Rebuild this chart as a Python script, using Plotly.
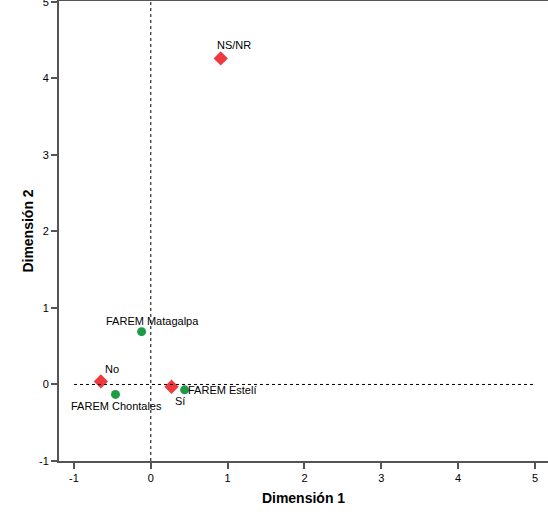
import plotly.graph_objs as go

# category points (dimension 1, dimension 2)
resp_names = ["NS/NR", "No", "Sí"]
resp_dim1 = [0.91, -0.65, 0.27]
resp_dim2 = [4.26, 0.04, -0.03]

farem_names = ["FAREM Matagalpa", "FAREM Chontales", "FAREM Estelí"]
farem_dim1 = [-0.12, -0.46, 0.44]
farem_dim2 = [0.69, -0.13, -0.07]

x_ticks = [-1, 0, 1, 2, 3, 4, 5]
y_ticks = [-1, 0, 1, 2, 3, 4, 5]
tick_text = ["-1", "0", "1", "2", "3", "4", "5"]

# label placement: (xanchor, xshift, yshift)
label_pos = {
    "NS/NR": ("center", 13, 13),
    "No": ("center", 11, 12),
    "Sí": ("center", 8, -14),
    "FAREM Matagalpa": ("center", 11, 11),
    "FAREM Chontales": ("center", 1, -12),
    "FAREM Estelí": ("left", 1, 0),
}

axis_col = "#555555"
font = "Liberation Sans, Arial, sans-serif"

fig = go.Figure()
fig.add_trace(go.Scatter(
    x=resp_dim1, y=resp_dim2, mode="markers",
    marker=dict(symbol="diamond", size=11, color="#ee3a3f"),
    hoverinfo="skip",
))
fig.add_trace(go.Scatter(
    x=farem_dim1, y=farem_dim2, mode="markers",
    marker=dict(symbol="circle", size=9, color="#1f9a45"),
    hoverinfo="skip",
))

for names, xs, ys in [(resp_names, resp_dim1, resp_dim2),
                      (farem_names, farem_dim1, farem_dim2)]:
    for n, x, y in zip(names, xs, ys):
        anchor, dx, dy = label_pos[n]
        fig.add_annotation(x=x, y=y, text=n, showarrow=False,
                           xanchor=anchor, yanchor="middle",
                           xshift=dx, yshift=dy,
                           font=dict(family=font, size=11, color="black"))

# reference lines at the origin
fig.add_shape(type="line", x0=-1, x1=5, y0=0, y1=0, xref="x", yref="y",
              line=dict(color="black", width=1, dash="dot"))
fig.add_shape(type="line", x0=0, x1=0, y0=0, y1=1, xref="x", yref="paper",
              line=dict(color="black", width=1, dash="dot"))

fig.update_layout(
    width=548, height=522,
    margin=dict(l=59, r=0, t=1, b=61, autoexpand=False),
    plot_bgcolor="white", paper_bgcolor="white",
    showlegend=False,
    font=dict(family=font, size=11, color="black"),
)
fig.update_xaxes(
    range=[-1.195, 5.17], tickvals=x_ticks, ticktext=tick_text,
    ticks="outside", ticklen=6,
    tickwidth=2, tickcolor=axis_col, showgrid=False, zeroline=False,
    showline=True, linecolor=axis_col, linewidth=2, mirror=True,
    title=dict(text="<b>Dimensión 1</b>", font=dict(size=14), standoff=10),
    tickfont=dict(size=11),
)
fig.update_yaxes(
    range=[-1, 5.01], tickvals=y_ticks, ticktext=tick_text,
    ticks="outside", ticklen=6, ticklabeloverflow="allow", automargin=False,
    tickwidth=2, tickcolor=axis_col, showgrid=False, zeroline=False,
    showline=True, linecolor=axis_col, linewidth=2,
    title=dict(text="<b>Dimensión 2</b>", font=dict(size=14), standoff=2),
    tickfont=dict(size=11),
)

fig.write_html("out.html", config={"displayModeBar": False},
               post_script="document.body.style.margin='0';"
                           "document.body.style.overflow='hidden';")
